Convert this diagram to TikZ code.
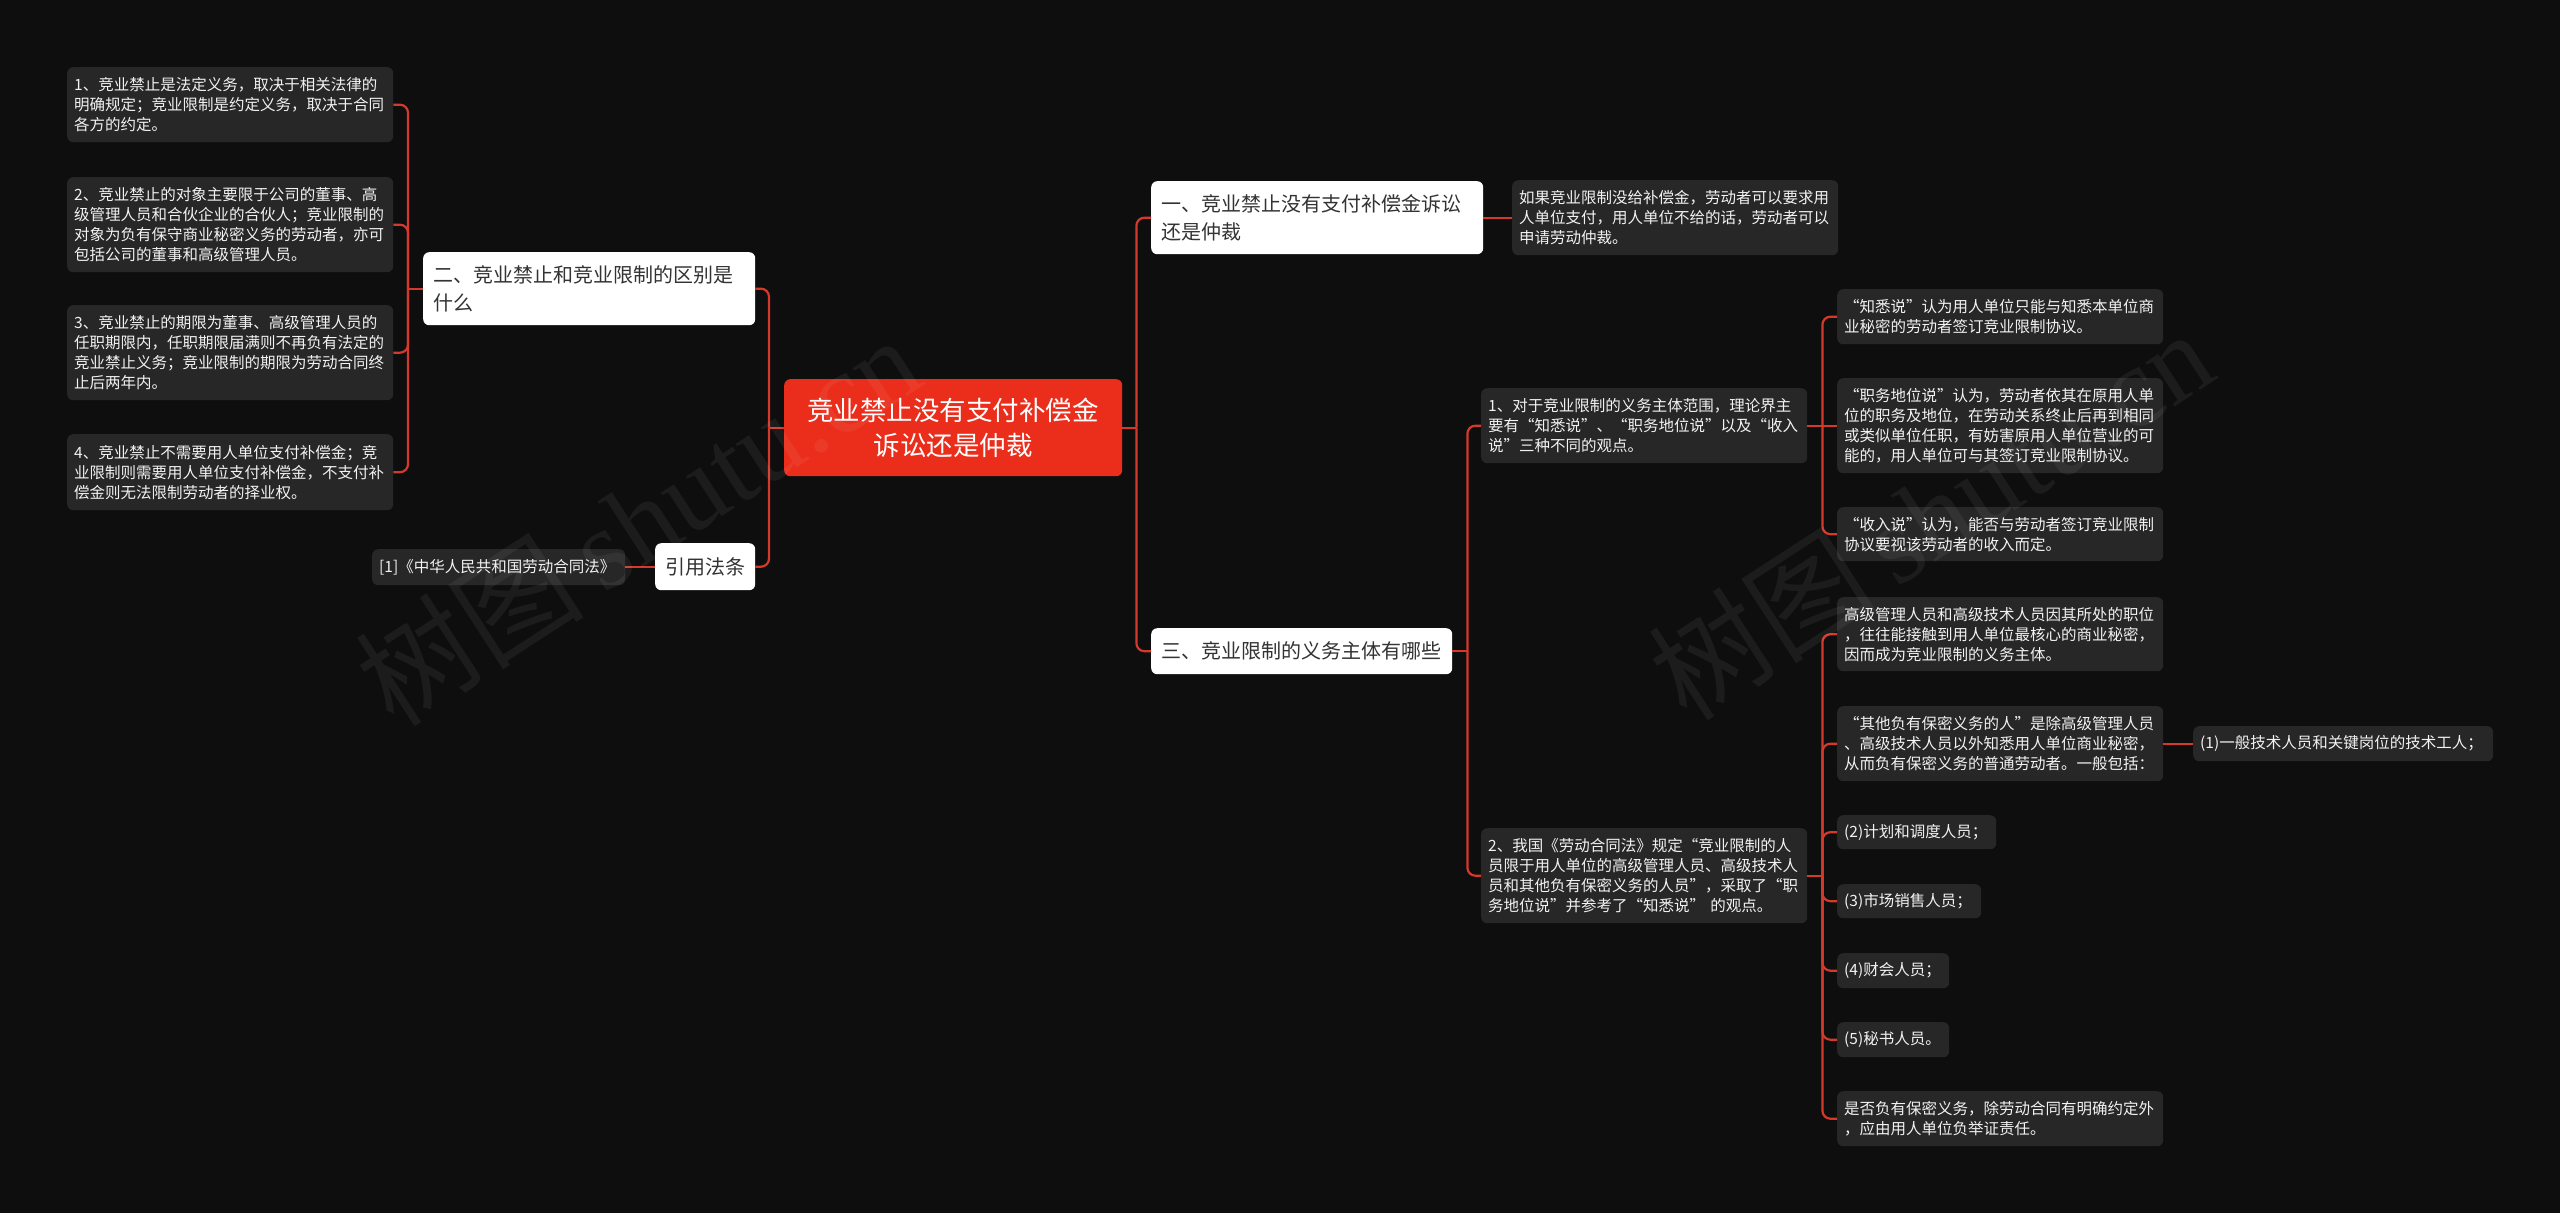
\documentclass[tikz,border=0pt]{standalone}
\usepackage{fontspec}
\setmainfont{Noto Sans CJK SC}
\newfontfamily\wmlatin{Liberation Serif}
\definecolor{bg}{HTML}{0E0E0E}
\definecolor{leaf}{HTML}{272727}
\definecolor{lnk}{HTML}{D33A2C}
\definecolor{rootred}{HTML}{EA2E1B}
\definecolor{dtext}{HTML}{333333}
\definecolor{ltext}{HTML}{F2F2F2}
\begin{document}
\begin{tikzpicture}[x=1pt,y=-1pt,
  box/.style={anchor=north west, rounded corners=6pt, align=left, inner ysep=0pt},
  leafbox/.style={box, fill=leaf, text=ltext, inner xsep=7pt, font=\fontsize{15.5}{20}\selectfont},
  whitebox/.style={box, fill=white, text=dtext, inner xsep=10pt, font=\fontsize{20}{28}\selectfont},
  rootbox/.style={box, fill=rootred, text=white, align=center, inner xsep=10pt, font=\fontsize{26.5}{35}\selectfont},
  conn/.style={draw=lnk, line width=2.2pt, rounded corners=8pt},
  wmark/.style={rotate=33, text=white, text opacity=0.06, font=\fontsize{115}{115}\selectfont}
]
\useasboundingbox (0,0) rectangle (2560,1213);
\fill[bg] (0,0) rectangle (2560,1213);

% ---------- root ----------
\node[rootbox, minimum width=338pt, minimum height=97pt, text width=318pt] (root) at (784,379) {竞业禁止没有支付补偿金\\诉讼还是仲裁};

% ---------- left side ----------
\node[whitebox, minimum width=332pt, minimum height=73pt, text width=312pt] (n2) at (423,252) {二、竞业禁止和竞业限制的区别是\\什么};
\node[whitebox, minimum width=100pt, minimum height=47pt, text width=80pt] (cite) at (655,543) {引用法条};
\node[leafbox, minimum width=253pt, minimum height=36pt, text width=239pt] (lawref) at (372,549) {[1]《中华人民共和国劳动合同法》};

\node[leafbox, minimum width=326pt, minimum height=75pt, text width=312pt] (L1) at (67,67) {1、竞业禁止是法定义务，取决于相关法律的\\明确规定；竞业限制是约定义务，取决于合同\\各方的约定。};
\node[leafbox, minimum width=326pt, minimum height=95pt, text width=312pt] (L2) at (67,177) {2、竞业禁止的对象主要限于公司的董事、高\\级管理人员和合伙企业的合伙人；竞业限制的\\对象为负有保守商业秘密义务的劳动者，亦可\\包括公司的董事和高级管理人员。};
\node[leafbox, minimum width=326pt, minimum height=95pt, text width=312pt] (L3) at (67,305) {3、竞业禁止的期限为董事、高级管理人员的\\任职期限内，任职期限届满则不再负有法定的\\竞业禁止义务；竞业限制的期限为劳动合同终\\止后两年内。};
\node[leafbox, minimum width=326pt, minimum height=76pt, text width=312pt] (L4) at (67,434) {4、竞业禁止不需要用人单位支付补偿金；竞\\业限制则需要用人单位支付补偿金，不支付补\\偿金则无法限制劳动者的择业权。};

% ---------- right side ----------
\node[whitebox, minimum width=332pt, minimum height=73pt, text width=312pt] (n1) at (1151,181) {一、竞业禁止没有支付补偿金诉讼\\还是仲裁};
\node[leafbox, minimum width=326pt, minimum height=75pt, text width=312pt] (R1c) at (1512,180) {如果竞业限制没给补偿金，劳动者可以要求用\\人单位支付，用人单位不给的话，劳动者可以\\申请劳动仲裁。};

\node[whitebox, minimum width=301pt, minimum height=46pt, text width=281pt] (n3) at (1151,628) {三、竞业限制的义务主体有哪些};

\node[leafbox, minimum width=326pt, minimum height=75pt, text width=312pt] (M1) at (1481,388) {1、对于竞业限制的义务主体范围，理论界主\\要有“知悉说”、“职务地位说”以及“收入\\说”三种不同的观点。};
\node[leafbox, minimum width=326pt, minimum height=95pt, text width=312pt] (M2) at (1481,828) {2、我国《劳动合同法》规定“竞业限制的人\\员限于用人单位的高级管理人员、高级技术人\\员和其他负有保密义务的人员”，采取了“职\\务地位说”并参考了“知悉说” 的观点。};

\node[leafbox, minimum width=326pt, minimum height=55pt, text width=312pt] (A1) at (1837,289) {“知悉说”认为用人单位只能与知悉本单位商\\业秘密的劳动者签订竞业限制协议。};
\node[leafbox, minimum width=326pt, minimum height=95pt, text width=312pt] (A2) at (1837,378) {“职务地位说”认为，劳动者依其在原用人单\\位的职务及地位，在劳动关系终止后再到相同\\或类似单位任职，有妨害原用人单位营业的可\\能的，用人单位可与其签订竞业限制协议。};
\node[leafbox, minimum width=326pt, minimum height=54pt, text width=312pt] (A3) at (1837,507) {“收入说”认为，能否与劳动者签订竞业限制\\协议要视该劳动者的收入而定。};

\node[leafbox, minimum width=326pt, minimum height=74pt, text width=312pt] (B1) at (1837,597) {高级管理人员和高级技术人员因其所处的职位\\，往往能接触到用人单位最核心的商业秘密，\\因而成为竞业限制的义务主体。};
\node[leafbox, minimum width=326pt, minimum height=75pt, text width=312pt] (B2) at (1837,706) {“其他负有保密义务的人”是除高级管理人员\\、高级技术人员以外知悉用人单位商业秘密，\\从而负有保密义务的普通劳动者。一般包括：};
\node[leafbox, minimum width=300pt, minimum height=35pt, text width=286pt] (B2c) at (2193,726) {(1)一般技术人员和关键岗位的技术工人；};
\node[leafbox, minimum width=159pt, minimum height=34pt, text width=145pt] (B3) at (1837,815) {(2)计划和调度人员；};
\node[leafbox, minimum width=144pt, minimum height=34pt, text width=130pt] (B4) at (1837,884) {(3)市场销售人员；};
\node[leafbox, minimum width=112pt, minimum height=35pt, text width=98pt] (B5) at (1837,953) {(4)财会人员；};
\node[leafbox, minimum width=112pt, minimum height=35pt, text width=98pt] (B6) at (1837,1022) {(5)秘书人员。};
\node[leafbox, minimum width=326pt, minimum height=55pt, text width=312pt] (B7) at (1837,1091) {是否负有保密义务，除劳动合同有明确约定外\\，应由用人单位负举证责任。};

% ---------- connectors ----------
\coordinate (bL) at ([xshift=-15pt]root.west);
\draw[conn] (root.west) -- (bL);
\draw[conn] (bL) |- (n2.east);
\draw[conn] (bL) |- (cite.east);
\draw[conn] (cite.west) -- (cite.west -| lawref.east);

\coordinate (b2) at ([xshift=-15pt]n2.west);
\draw[conn] (n2.west) -- (b2);
\draw[conn] (b2) |- (L1.east);
\draw[conn] (b2) |- (L2.east);
\draw[conn] (b2) |- (L3.east);
\draw[conn] (b2) |- (L4.east);

\coordinate (bR) at ([xshift=14pt]root.east);
\draw[conn] (root.east) -- (bR);
\draw[conn] (bR) |- (n1.west);
\draw[conn] (bR) |- (n3.west);
\draw[conn] (n1.east) -- (R1c.west);

\coordinate (b3) at ([xshift=15pt]n3.east);
\draw[conn] (n3.east) -- (b3);
\draw[conn] (b3) |- (M1.west);
\draw[conn] (b3) |- (M2.west);

\coordinate (bM1) at ([xshift=15pt]M1.east);
\draw[conn] (M1.east) -- (A2.west);
\draw[conn] (bM1) |- (A1.west);
\draw[conn] (bM1) |- (A3.west);

\coordinate (bM2) at ([xshift=15pt]M2.east);
\draw[conn] (M2.east) -- (bM2);
\draw[conn] (bM2) |- (B1.west);
\draw[conn] (bM2) |- (B2.west);
\draw[conn] (bM2) |- (B3.west);
\draw[conn] (bM2) |- (B4.west);
\draw[conn] (bM2) |- (B5.west);
\draw[conn] (bM2) |- (B6.west);
\draw[conn] (bM2) |- (B7.west);
\draw[conn] (B2.east) -- (B2c.west);

% ---------- watermarks ----------
\node[wmark] (wm1) at (637,520) {树图\,{\wmlatin shutu.cn}};
\node[wmark] (wm2) at (1930,514) {树图\,{\wmlatin shutu.cn}};
\end{tikzpicture}
\end{document}
